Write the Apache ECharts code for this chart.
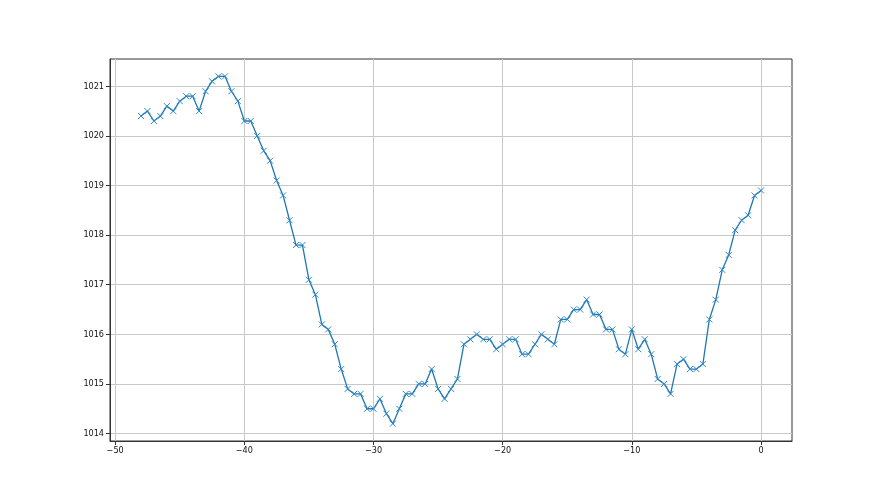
<!DOCTYPE html>
<html><head><meta charset="utf-8">
<script src="https://cdn.jsdelivr.net/npm/echarts@6/dist/echarts.min.js"></script>
<style>html,body{margin:0;padding:0;background:#fff}#c{width:880px;height:495px}</style>
</head><body><div id="c"></div>
<script>
var xValues = [];
for (var i = 0; i <= 96; i++) xValues.push(-48 + i * 0.5);
var pressure = [
 1020.4,1020.5,1020.3,1020.4,1020.6,1020.5,1020.7,1020.8,1020.8,1020.5,
 1020.9,1021.1,1021.2,1021.2,1020.9,1020.7,1020.3,1020.3,1020.0,1019.7,
 1019.5,1019.1,1018.8,1018.3,1017.8,1017.8,1017.1,1016.8,1016.2,1016.1,
 1015.8,1015.3,1014.9,1014.8,1014.8,1014.5,1014.5,1014.7,1014.4,1014.2,
 1014.5,1014.8,1014.8,1015.0,1015.0,1015.3,1014.9,1014.7,1014.9,1015.1,
 1015.8,1015.9,1016.0,1015.9,1015.9,1015.7,1015.8,1015.9,1015.9,1015.6,
 1015.6,1015.8,1016.0,1015.9,1015.8,1016.3,1016.3,1016.5,1016.5,1016.7,
 1016.4,1016.4,1016.1,1016.1,1015.7,1015.6,1016.1,1015.7,1015.9,1015.6,
 1015.1,1015.0,1014.8,1015.4,1015.5,1015.3,1015.3,1015.4,1016.3,1016.7,
 1017.3,1017.6,1018.1,1018.3,1018.4,1018.8,1018.9
];
var xTicks = [-50, -40, -30, -20, -10, 0];
var yTicks = [1014, 1015, 1016, 1017, 1018, 1019, 1020, 1021];

var data = xValues.map(function (x, i) { return [x, pressure[i]]; });
var font = '"DejaVu Sans Condensed", "Liberation Sans", sans-serif';
var fmt = function (v) { return String(v).replace('-', '\u2212'); };
var chart = echarts.init(document.getElementById('c'), null, {renderer: 'canvas'});
chart.setOption({
  animation: false,
  backgroundColor: '#fff',
  grid: {left: 110, right: 88, top: 59, bottom: 54, show: true, borderColor: '#333', borderWidth: 1},
  xAxis: {
    type: 'value', min: -50.4, max: 2.4,
    axisLine: {show: true, onZero: false, lineStyle: {color: '#333'}},
    axisTick: {show: true, length: 4, customValues: xTicks, lineStyle: {color: '#333'}},
    axisLabel: {customValues: xTicks, formatter: fmt, color: '#111', fontFamily: font, fontSize: 9, margin: 5},
    splitLine: {show: true, lineStyle: {color: '#c8c8c8', width: 1}}
  },
  yAxis: {
    type: 'value', min: 1013.85, max: 1021.55,
    axisLine: {show: true, onZero: false, lineStyle: {color: '#333'}},
    axisTick: {show: true, length: 4, customValues: yTicks, lineStyle: {color: '#333'}},
    axisLabel: {customValues: yTicks, formatter: fmt, color: '#111', fontFamily: font, fontSize: 9, margin: 6},
    splitLine: {show: true, lineStyle: {color: '#c8c8c8', width: 1}}
  },
  series: [{
    type: 'line',
    data: data,
    symbol: 'path://M0,0L10,10M10,0L0,10',
    symbolSize: 6,
    showSymbol: true,
    lineStyle: {color: '#1f77b4', width: 1.3},
    itemStyle: {color: 'none', borderColor: '#2f87c4', borderWidth: 1}
  }]
});
</script></body></html>
